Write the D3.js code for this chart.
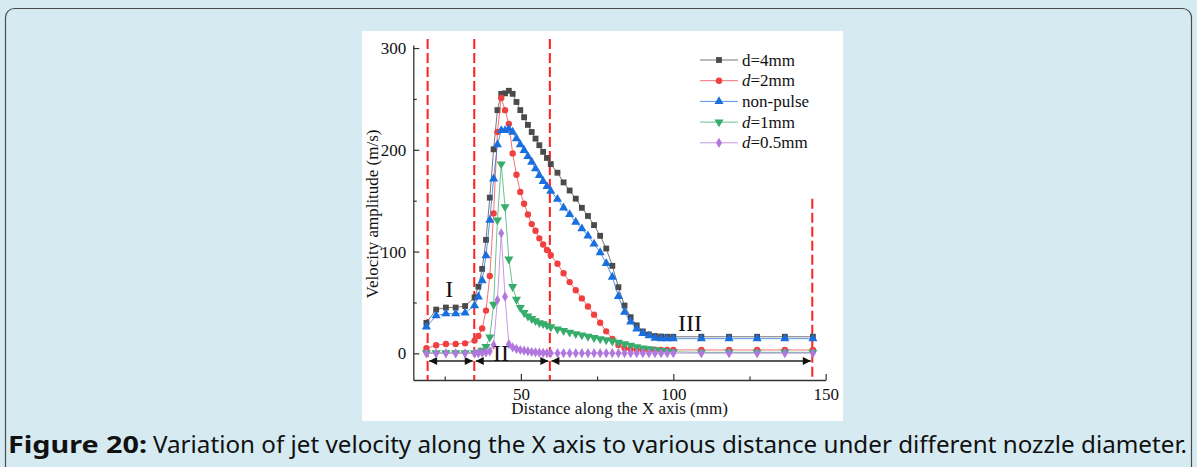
<!DOCTYPE html>
<html>
<head>
<meta charset="utf-8">
<script src="https://cdn.jsdelivr.net/npm/d3@7"></script>
<style>
  html, body { margin: 0; padding: 0; background: #d6ebf1; }
  svg { display: block; }
</style>
</head>
<body>
<svg id="fig" width="1197" height="467"></svg>
<script>
// Jet velocity amplitude along X for several nozzle diameters

// sample positions along X (mm), shared by all series
const xValues = [
  19, 22.2, 25.4, 28.6, 31.7, 34.8,
  36.05, 37.3, 38.55, 39.8, 41.05, 42.3, 43.55, 44.8, 46.05, 47.3, 48.55, 49.8, 51.05, 52.3,
  53.55, 54.8, 56.05, 57.3, 58.55, 59.8,
  62, 64, 66, 68, 70, 72, 74, 76, 78, 80, 82, 84, 86, 88, 90, 92, 94, 96, 98, 100,
  109.2, 118.3, 127.5, 136.6, 145.8
];

const d4mm = [
  30, 43, 45, 45, 46.5, 55,
  65.5, 83, 111.5, 153, 200.5, 239, 255, 255.5, 258, 255, 247, 239, 232, 224.5,
  217.5, 211, 204.5, 198, 192, 186,
  177.5, 168, 160, 152, 143, 135, 126, 115.5, 103, 86, 65, 47, 35.5, 27.5, 21.5, 18.5, 17, 16.5, 16.3, 16.3,
  16.3, 16.3, 16.3, 16.3, 16.3
];

const d2mm = [
  5, 8, 9.2, 9.2, 9.8, 12.5,
  17, 24.5, 42, 76, 137.5, 217.5, 251, 239, 225.5, 196.5, 175.5, 158.5, 147, 136.5,
  127, 120.5, 113, 107, 101.5, 96.5,
  88, 78.7, 70, 62, 54, 46, 38, 30, 21.6, 14.2, 8.2, 5, 4, 3.7, 3.5, 3.5, 3.5, 3.4, 3.4, 3.4,
  3.3, 3.3, 3.3, 3.3, 3.3
];

const nonPulse = [
  26, 37, 39, 39, 39.7, 47,
  55.5, 71.5, 96, 131, 171.5, 205, 219, 219, 220.5, 217.5, 211, 205, 199.5, 193.5,
  188, 181.5, 175, 169, 164, 159.5,
  151.5, 143, 136.5, 129, 122.5, 115.5, 107.5, 99, 88.5, 75, 56, 40.5, 31, 24, 19.7, 17.3, 15, 14.5, 14.4, 14.4,
  14.4, 14.4, 14.4, 14.4, 14.4
];

const d1mm = [
  0.5, 0.5, 0.5, 0.5, 0.5, 0.5,
  1, 3, 6.5, 16, 48, 131, 186, 144, 92.5, 65.5, 53, 45, 40, 36.5,
  34, 32, 30, 29, 27.5, 26,
  23.8, 22.3, 20.7, 19.2, 18, 16.6, 15.4, 14.2, 13.2, 12, 10.8, 9.3, 7.9, 6.4, 5.2, 4.3, 3.4, 2.6, 2, 1.5,
  1, 1, 1, 1, 1
];

const d05mm = [
  0, 0, 0, 0, 0, 0,
  0.2, 0.5, 0.8, 2, 8.2, 52.5, 118, 55.7, 9, 5.9, 4.3, 3.3, 2.6, 2,
  1.3, 1, 0.7, 0.5, 0.3, 0.2,
  0.2, 0.2, 0.2, 0.2, 0.2, 0.2, 0.2, 0.2, 0.2, 0.2, 0.2, 0.2, 0.2, 0.2, 0.2, 0.2, 0.2, 0.2, 0.2, 0.2,
  0.2, 0.2, 0.2, 0.2, 0.2
];

const seriesNames = ["d=4mm", "d=2mm", "non-pulse", "d=1mm", "d=0.5mm"];
const seriesValues = [d4mm, d2mm, nonPulse, d1mm, d05mm];
const seriesColors = ["#4a4a4a", "#f04040", "#1a6fdf", "#37ad6b", "#b177de"];

// region boundaries (red dashed) and their top ends
const dividerX = [19.4, 34.7, 59.5, 145.6];
const dividerTop = [309, 309, 309, 152];
const arrowY = -7.5;
const regionLabels = ["I", "II", "III"];
const regionLabelX = [26.5, 43.5, 105.5];
const regionLabelY = [63, 0.5, 29.5];

const yTicks = [0, 100, 200, 300];
const yMinor = [50, 150, 250];
const xTicks = [50, 100, 150];
const xMinor = [25, 75, 125];

const svg = d3.select("#fig");
const serif = "'Liberation Serif', 'Times New Roman', serif";

// page frame
svg.append("rect")
  .attr("x", 5.5).attr("y", 8.5).attr("width", 1186).attr("height", 480).attr("rx", 9)
  .attr("fill", "#d6ebf1").attr("stroke", "#4a4a4a").attr("stroke-width", 1.2);

// white figure area
svg.append("rect")
  .attr("x", 362).attr("y", 31).attr("width", 481).attr("height", 390)
  .attr("fill", "#fff");

const x = d3.scaleLinear().domain([14.7, 150]).range([413.3, 825.7]);
const y = d3.scaleLinear().domain([-26.2, 303]).range([380, 45]);

// axes (ticks point inward)
function styleAxis(g) {
  g.selectAll("path.domain").attr("stroke", "#333").attr("stroke-width", 1.3);
  g.selectAll(".tick line").attr("stroke", "#333").attr("stroke-width", 1.2);
  g.selectAll(".tick text").attr("fill", "#111").style("font-family", serif).style("font-size", "17px");
}

const gy = svg.append("g").attr("transform", `translate(${x.range()[0]},0)`)
  .call(d3.axisLeft(y).tickValues(yTicks).tickSizeInner(-6).tickSizeOuter(0).tickPadding(7));
styleAxis(gy);
const gyMinor = svg.append("g").attr("transform", `translate(${x.range()[0]},0)`)
  .call(d3.axisLeft(y).tickValues(yMinor).tickSizeInner(-3.5).tickSizeOuter(0).tickFormat(""));
gyMinor.select("path.domain").remove();
styleAxis(gyMinor);

const gx = svg.append("g").attr("transform", `translate(0,${y.range()[0]})`)
  .call(d3.axisBottom(x).tickValues(xTicks).tickSizeInner(-6).tickSizeOuter(0).tickPadding(7.5));
styleAxis(gx);
const gxMinor = svg.append("g").attr("transform", `translate(0,${y.range()[0]})`)
  .call(d3.axisBottom(x).tickValues(xMinor).tickSizeInner(-3.5).tickSizeOuter(0).tickFormat(""));
gxMinor.select("path.domain").remove();
styleAxis(gxMinor);

// axis titles
svg.append("text")
  .attr("x", (x.range()[0] + x.range()[1]) / 2).attr("y", 413.5)
  .attr("text-anchor", "middle").style("font-family", serif).style("font-size", "17px")
  .attr("fill", "#111").text("Distance along the X axis (mm)");
svg.append("text")
  .attr("transform", "translate(378,214) rotate(-90)")
  .attr("text-anchor", "middle").style("font-family", serif).style("font-size", "17px")
  .attr("fill", "#111").text("Velocity amplitude (m/s)");

// red dashed region dividers
svg.append("g").selectAll("line")
  .data(dividerX)
  .join("line")
    .attr("x1", d => x(d)).attr("x2", d => x(d))
    .attr("y1", (d, i) => y(dividerTop[i])).attr("y2", y.range()[0])
    .attr("stroke", "#ff2020").attr("stroke-width", 2).attr("stroke-dasharray", "10,4");

// double arrows between dividers
const defs = svg.append("defs");
defs.append("marker").attr("id", "ah").attr("viewBox", "0 0 10 10")
  .attr("refX", 10).attr("refY", 5).attr("markerWidth", 10).attr("markerHeight", 8)
  .attr("markerUnits", "userSpaceOnUse").attr("orient", "auto-start-reverse")
  .append("path").attr("d", "M0,0 L10,5 L0,10 Z").attr("fill", "#111");

const spans = d3.pairs(dividerX);
svg.append("g").selectAll("line")
  .data(spans)
  .join("line")
    .attr("x1", d => x(d[0]) + 1.5).attr("x2", d => x(d[1]) - 1.5)
    .attr("y1", y(arrowY)).attr("y2", y(arrowY))
    .attr("stroke", "#222").attr("stroke-width", 1.5)
    .attr("marker-start", "url(#ah)").attr("marker-end", "url(#ah)");

// series
const symbols = [
  d3.symbol(d3.symbolSquare, 34),
  d3.symbol(d3.symbolCircle, 32),
  d3.symbol(d3.symbolTriangle, 36),
  d3.symbol(d3.symbolTriangle, 36),
  d3.symbol(d3.symbolDiamond, 30)
];
const symRotate = [0, 0, 0, 180, 0];

const line = d3.line().x(d => x(d[0])).y(d => y(d[1]));

seriesValues.forEach((vals, i) => {
  const pts = xValues.map((xv, j) => [xv, vals[j]]);
  const g = svg.append("g");
  g.append("path")
    .datum(pts)
    .attr("d", line)
    .attr("fill", "none")
    .attr("stroke", seriesColors[i])
    .attr("stroke-opacity", 0.75)
    .attr("stroke-width", 1);
  g.selectAll("path.pt")
    .data(pts)
    .join("path")
      .attr("class", "pt")
      .attr("d", symbols[i])
      .attr("transform", d => `translate(${x(d[0])},${y(d[1])}) rotate(${symRotate[i]})`)
      .attr("fill", seriesColors[i]);
});

// region labels
svg.append("g").selectAll("text")
  .data(regionLabels)
  .join("text")
    .attr("x", (d, i) => x(regionLabelX[i]))
    .attr("y", (d, i) => y(regionLabelY[i]) + 8)
    .attr("text-anchor", "middle")
    .style("font-family", serif).style("font-size", "24px")
    .attr("fill", "#111")
    .text(d => d);

// legend
const legend = svg.append("g").attr("transform", "translate(700,60)");
const rowH = 20.7;
seriesNames.forEach((name, i) => {
  const row = legend.append("g").attr("transform", `translate(0,${i * rowH})`);
  row.append("line").attr("x1", 0).attr("x2", 38).attr("y1", 0).attr("y2", 0)
    .attr("stroke", seriesColors[i]).attr("stroke-opacity", 0.75).attr("stroke-width", 1);
  row.append("path").attr("d", symbols[i])
    .attr("transform", `translate(19,0) rotate(${symRotate[i]})`)
    .attr("fill", seriesColors[i]);
  const t = row.append("text").attr("x", 42).attr("y", 5.5)
    .style("font-family", serif).style("font-size", "17px").attr("fill", "#111");
  if (name.startsWith("d=") && i > 0) {
    t.append("tspan").style("font-style", "italic").text("d");
    t.append("tspan").text(name.slice(1));
  } else {
    t.text(name);
  }
});

// caption
const capFont = "'Noto Sans', 'Open Sans', sans-serif";
svg.append("text")
  .attr("x", 8).attr("y", 453)
  .attr("textLength", 139).attr("lengthAdjust", "spacingAndGlyphs")
  .style("font-family", capFont).style("font-size", "23px").style("font-weight", "bold")
  .attr("fill", "#111").text("Figure 20:");
svg.append("text")
  .attr("x", 153).attr("y", 453)
  .attr("textLength", 1034).attr("lengthAdjust", "spacingAndGlyphs")
  .style("font-family", capFont).style("font-size", "23px")
  .attr("fill", "#111").text("Variation of jet velocity along the X axis to various distance under different nozzle diameter.");
</script>
</body>
</html>
